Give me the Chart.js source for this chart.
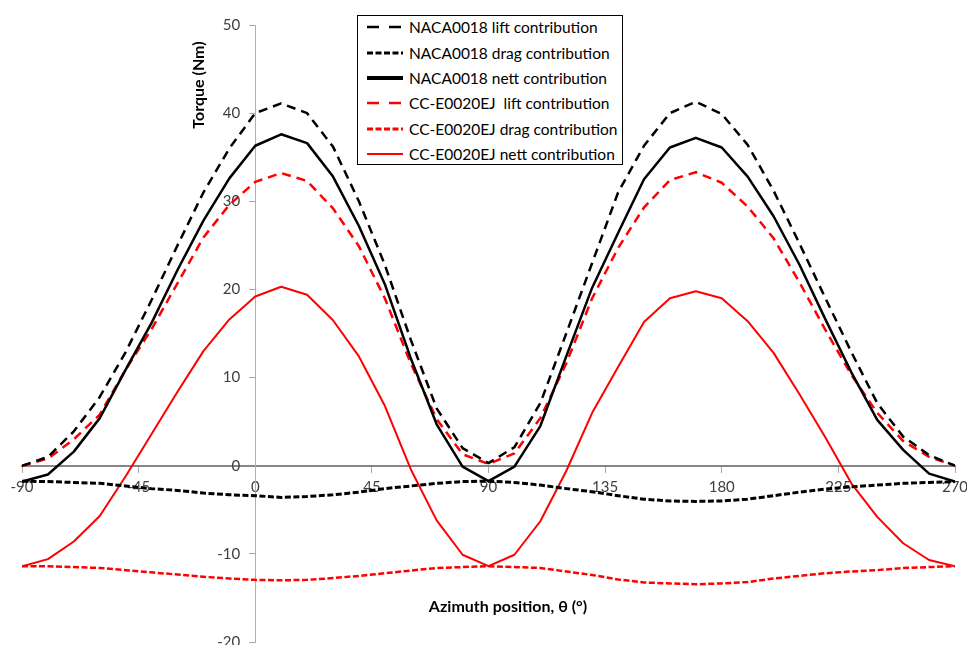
<!DOCTYPE html>
<html>
<head>
<meta charset="utf-8">
<script src="https://cdn.jsdelivr.net/npm/chart.js@4.4.1/dist/chart.umd.min.js"></script>
<style>
html,body{margin:0;padding:0;background:#fff;}
#wrap{position:relative;width:967px;height:645px;overflow:hidden;}
#c{position:absolute;left:0;top:0;}
#legend{position:absolute;left:357px;top:15px;width:264px;height:148px;border:1px solid #000;background:#fff;
  font-family:Lato,"Liberation Sans",sans-serif;font-size:15.5px;color:#000;}
.row{position:absolute;left:0;width:264px;height:20px;}
.row svg{position:absolute;left:9px;top:5px;}
.row span{position:absolute;left:51px;top:0;line-height:20px;white-space:pre;}
</style>
</head>
<body>
<div id="wrap">
<canvas id="c" width="967" height="645"></canvas>
<div id="legend"></div>
</div>
<script>
// ---- data ----
const theta = [-90,-80,-70,-60,-50,-40,-30,-20,-10,0,10,20,30,40,50,60,70,80,90,100,110,120,130,140,150,160,170,180,190,200,210,220,230,240,250,260,270];

const nacaLift = [0.0,1.0,3.9,7.8,12.9,18.8,25.0,31.0,36.0,40.0,41.1,40.0,36.2,30.0,22.8,14.3,6.5,2.0,0.3,2.1,7.1,15.0,23.0,31.0,36.3,40.0,41.3,39.9,36.4,31.2,25.2,19.0,12.9,7.1,3.3,1.2,0.0];
const nacaDrag = [-1.75,-1.8,-1.9,-2.0,-2.3,-2.6,-2.8,-3.1,-3.3,-3.4,-3.6,-3.5,-3.3,-3.0,-2.6,-2.3,-2.0,-1.8,-1.75,-1.9,-2.2,-2.6,-2.95,-3.4,-3.8,-4.0,-4.05,-4.0,-3.8,-3.4,-3.0,-2.65,-2.4,-2.2,-2.0,-1.9,-1.8];
const nacaNett = [-1.8,-1.0,1.6,5.4,10.9,16.2,22.2,27.8,32.6,36.3,37.6,36.6,32.8,27.2,20.6,12.2,4.7,-0.1,-1.75,-0.1,4.5,12.4,20.2,26.4,32.5,36.1,37.2,36.1,32.8,28.3,22.8,16.6,10.6,5.2,1.8,-0.9,-1.8];
const ccLift = [0.0,0.8,3.0,5.8,10.9,15.5,20.7,25.9,29.6,32.2,33.2,32.3,29.2,24.9,19.0,11.6,5.3,1.3,0.2,1.4,5.4,11.6,19.0,24.7,29.3,32.4,33.3,32.1,29.4,25.8,20.8,15.4,10.3,6.0,2.8,1.0,0.0];
const ccDrag = [-11.4,-11.4,-11.5,-11.6,-11.85,-12.1,-12.35,-12.6,-12.8,-12.95,-13.0,-12.95,-12.75,-12.5,-12.2,-11.9,-11.6,-11.5,-11.4,-11.5,-11.6,-12.0,-12.4,-12.9,-13.25,-13.35,-13.45,-13.35,-13.2,-12.8,-12.5,-12.2,-12.0,-11.85,-11.6,-11.5,-11.4];
const ccNett = [-11.4,-10.6,-8.6,-5.7,-1.2,3.6,8.4,13.0,16.6,19.2,20.3,19.4,16.5,12.4,6.8,-0.4,-6.2,-10.1,-11.4,-10.1,-6.3,-0.6,6.0,11.2,16.3,19.0,19.8,19.0,16.4,12.8,8.1,3.2,-2.0,-5.8,-8.8,-10.7,-11.4];

const seriesNames = ["NACA0018 lift contribution","NACA0018 drag contribution","NACA0018 nett contribution",
  "CC-E0020EJ  lift contribution","CC-E0020EJ drag contribution","CC-E0020EJ nett contribution"];
const seriesValues = [nacaLift, nacaDrag, nacaNett, ccLift, ccDrag, ccNett];

const xTicks = [-90,-45,0,45,90,135,180,225,270];
const yTicks = [-20,-10,0,10,20,30,40,50];
const yAxisCrossAt = 0;
const xTitle = "Azimuth position, \u03B8 (\u00B0)";
const yTitle = "Torque (Nm)";

// ---- styles ----
const styles = [
  {color:'#000000', width:2.5, dash:[9,6],   legendWidth:2.5, legendDash:'12 10'},
  {color:'#000000', width:3,   dash:[6,2.5], legendWidth:3,   legendDash:'6 2.5'},
  {color:'#000000', width:2.5, dash:[],      legendWidth:4,   legendDash:''},
  {color:'#ff0000', width:2.5, dash:[9,6],   legendWidth:2.5, legendDash:'12 10'},
  {color:'#ff0000', width:2.5, dash:[6,2.5], legendWidth:3,   legendDash:'6 2.5'},
  {color:'#ff0000', width:2,   dash:[],      legendWidth:2,   legendDash:''}
];

const FONT = 'Lato, "Liberation Sans", sans-serif';

const datasets = seriesValues.map((vals, i) => ({
  label: seriesNames[i],
  data: vals,
  borderColor: styles[i].color,
  backgroundColor: styles[i].color,
  borderWidth: styles[i].width,
  borderDash: styles[i].dash,
  pointRadius: 0,
  tension: 0,
  fill: false,
  borderCapStyle: 'butt',
  borderJoinStyle: 'round'
}));

// move the (zero-width) left y axis so that it crosses the x axis at theta = 0
const crossYAxis = {
  id: 'crossYAxis',
  afterLayout(chart) {
    const ys = chart.scales.y;
    const px = chart.scales.x.getPixelForValue(yAxisCrossAt);
    ys.left = px - 60;
    ys.right = px;
    ys.width = 60;
  }
};

const axisTitles = {
  id: 'axisTitles',
  afterDraw(chart) {
    const ctx = chart.ctx;
    ctx.save();
    ctx.fillStyle = '#000';
    ctx.font = 'bold 16px ' + FONT;
    ctx.textAlign = 'center';
    ctx.textBaseline = 'middle';
    ctx.fillText(xTitle, 508, 607);
    ctx.translate(199, 85);
    ctx.rotate(-Math.PI / 2);
    ctx.fillText(yTitle, 0, 0);
    ctx.restore();
  }
};

new Chart(document.getElementById('c'), {
  type: 'line',
  data: { labels: theta, datasets: datasets },
  options: {
    responsive: false,
    animation: false,
    devicePixelRatio: 1,
    layout: { padding: { left: 22, right: 12, top: 25, bottom: 3 } },
    plugins: { legend: { display: false }, tooltip: { enabled: false } },
    scales: {
      x: {
        type: 'linear',
        min: -90, max: 270,
        position: { y: 0 },
        afterBuildTicks: (s) => { s.ticks = xTicks.map(v => ({ value: v })); },
        afterFit: (s) => { s.paddingLeft = 0; s.paddingRight = 0; },
        border: { display: true, color: '#868686', width: 2 },
        grid: { drawOnChartArea: false, drawTicks: true, tickLength: 6, color: '#a6a6a6' },
        ticks: { color: '#404040', font: { family: FONT, size: 15 }, padding: 6, maxRotation: 0, autoSkip: false }
      },
      y: {
        type: 'linear',
        min: -20, max: 50,
        position: 'left',
        afterBuildTicks: (s) => { s.ticks = yTicks.map(v => ({ value: v })); },
        afterFit: (s) => { s.width = 0; s.paddingTop = 0; s.paddingBottom = 0; },
        border: { display: true, color: '#b0b0b0', width: 1 },
        grid: { drawOnChartArea: false, drawTicks: true, tickLength: 6, color: '#a6a6a6' },
        ticks: { color: '#404040', font: { family: FONT, size: 15 }, padding: 9, autoSkip: false }
      }
    }
  },
  plugins: [crossYAxis, axisTitles]
});

// ---- HTML legend ----
const legend = document.getElementById('legend');
const rowCenters = [11, 36.5, 62, 87, 112.5, 138];
seriesNames.forEach((name, i) => {
  const row = document.createElement('div');
  row.className = 'row';
  row.style.top = (rowCenters[i] - 10) + 'px';
  const st = styles[i];
  row.innerHTML = '<svg width="38" height="10"><line x1="0" y1="5" x2="36" y2="5" stroke="' + st.color +
    '" stroke-width="' + st.legendWidth + '"' + (st.legendDash ? ' stroke-dasharray="' + st.legendDash + '"' : '') +
    '/></svg>';
  const span = document.createElement('span');
  span.textContent = name;
  row.appendChild(span);
  legend.appendChild(row);
});
</script>
</body>
</html>
